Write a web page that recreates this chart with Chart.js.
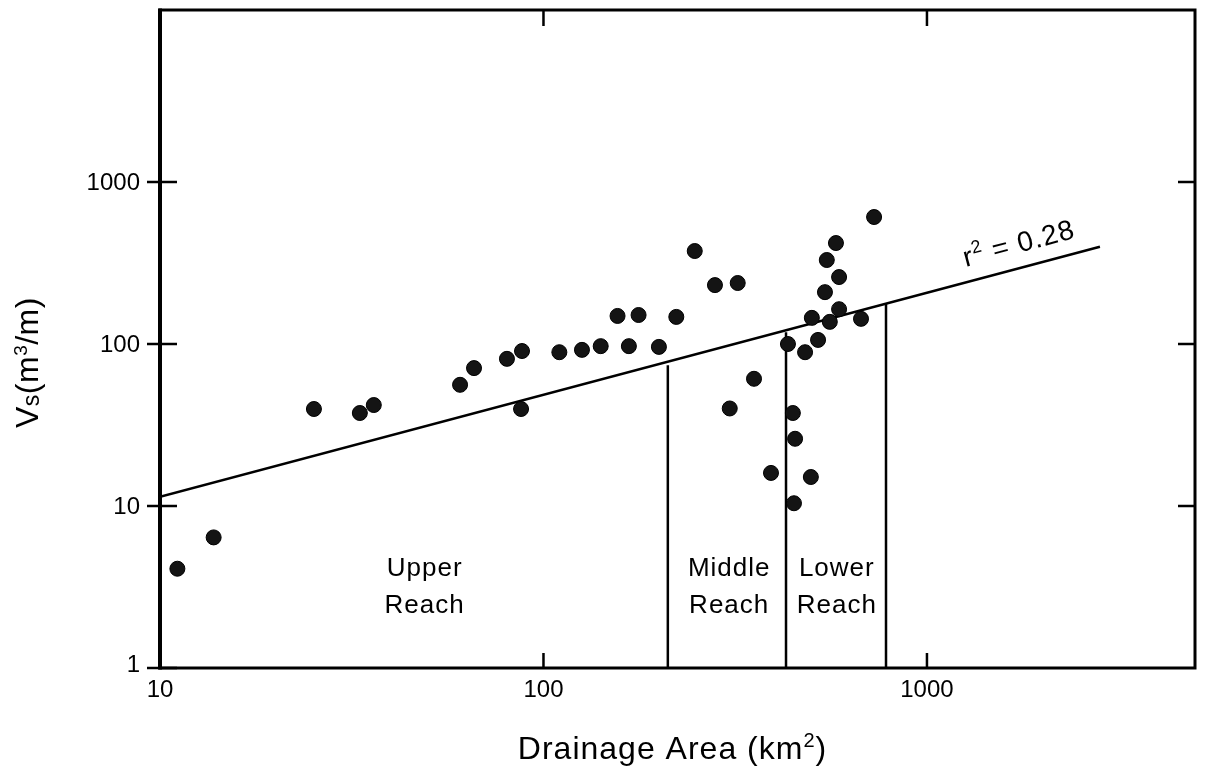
<!DOCTYPE html>
<html>
<head>
<meta charset="utf-8">
<script src="https://cdn.jsdelivr.net/npm/chart.js@4.4.1/dist/chart.umd.min.js"></script>
<style>
  html, body { margin: 0; padding: 0; background: #fff; }
  #wrap { width: 1205px; height: 775px; }
</style>
</head>
<body>
<div id="wrap"><canvas id="chart" width="1205" height="775"></canvas></div>
<script>
// drainage area (km2) and sediment volume per metre of channel, one entry per site
const areaKm2 = [11.1, 13.8, 25.2, 33.2, 36.1, 60.6, 65.9, 80.3, 87.9, 87.4,
  110, 126, 141, 156, 167, 177, 200, 222, 248, 280,
  306, 321, 354, 392, 434, 447, 453, 450, 481, 501,
  520, 498, 542, 548, 558, 579, 590, 590, 673, 728];
const volumeVs = [4.1, 6.4, 39.7, 37.5, 42, 56, 71, 81, 90.5, 39.7,
  89, 92, 97, 149, 97, 151, 96, 147, 375, 231,
  40, 238, 61, 16, 100, 37.5, 26, 10.4, 89, 145,
  106, 15.1, 209, 330, 137, 420, 259, 164, 143, 608];

// regression line end points
const fitArea = [10, 2825];
const fitVolume = [11.4, 398];

// reach boundaries: each runs from the x axis up to the regression line
const boundaryArea = [211, 429, 782];
const boundaryTop = [74, 118, 177];

const reachNames = [['Upper', 'Reach'], ['Middle', 'Reach'], ['Lower', 'Reach']];

const xTicks = [10, 100, 1000];
const yTicks = [1, 10, 100, 1000];

const FONT = '"Liberation Sans", Arial, Helvetica, sans-serif';

// draw a row of text pieces (normal, sub- and superscripts) starting at x
function drawRuns(ctx, runs, x, y, spacing) {
  if ('letterSpacing' in ctx) ctx.letterSpacing = spacing + 'px';
  ctx.textAlign = 'left';
  ctx.textBaseline = 'alphabetic';
  runs.forEach(r => {
    ctx.font = r.size + 'px ' + FONT;
    ctx.fillText(r.text, x, y + (r.dy || 0));
    x += ctx.measureText(r.text).width;
  });
  if ('letterSpacing' in ctx) ctx.letterSpacing = '0px';
}

function runsWidth(ctx, runs, spacing) {
  if ('letterSpacing' in ctx) ctx.letterSpacing = spacing + 'px';
  let w = 0;
  runs.forEach(r => {
    ctx.font = r.size + 'px ' + FONT;
    w += ctx.measureText(r.text).width;
  });
  if ('letterSpacing' in ctx) ctx.letterSpacing = '0px';
  return w;
}

const framePlugin = {
  id: 'frame',
  afterDraw(chart) {
    const { ctx, chartArea: a, scales: { x, y } } = chart;
    ctx.save();
    ctx.strokeStyle = '#000';
    ctx.fillStyle = '#000';

    // box round the plot, left side a bit heavier
    ctx.lineWidth = 3;
    ctx.strokeRect(a.left, a.top, a.right - a.left, a.bottom - a.top);
    ctx.lineWidth = 4;
    ctx.beginPath();
    ctx.moveTo(a.left, a.top - 1.5);
    ctx.lineTo(a.left, a.bottom + 1.5);
    ctx.stroke();

    // tick marks
    ctx.lineWidth = 2.5;
    ctx.beginPath();
    yTicks.forEach(v => {
      const py = y.getPixelForValue(v);
      ctx.moveTo(a.left - 13, py);
      ctx.lineTo(a.left + 17, py);
      if (v > 1) {
        ctx.moveTo(a.right, py);
        ctx.lineTo(a.right - 17, py);
      }
    });
    xTicks.forEach(v => {
      if (v === 10) return;
      const px = x.getPixelForValue(v);
      ctx.moveTo(px, a.bottom);
      ctx.lineTo(px, a.bottom - 15);
      ctx.moveTo(px, a.top);
      ctx.lineTo(px, a.top + 16);
    });
    ctx.stroke();

    // tick labels
    ctx.font = '24px ' + FONT;
    ctx.textBaseline = 'middle';
    ctx.textAlign = 'right';
    yTicks.forEach(v => {
      const py = y.getPixelForValue(v);
      ctx.fillText(String(v), a.left - 20, v === 1 ? py - 3 : py + 1);
    });
    ctx.textAlign = 'center';
    xTicks.forEach(v => {
      ctx.fillText(String(v), x.getPixelForValue(v), a.bottom + 22);
    });

    // reach names
    const labelX = [49, 305, 582];
    reachNames.forEach((lines, i) => {
      const px = x.getPixelForValue(labelX[i]);
      lines.forEach((t, j) => {
        const w = runsWidth(ctx, [{ text: t, size: 26 }], 1);
        drawRuns(ctx, [{ text: t, size: 26 }], px - w / 2, 576 + j * 37, 1);
      });
    });

    // x axis title
    const xt = [
      { text: 'Drainage Area (km', size: 32 },
      { text: '2', size: 20, dy: -12 },
      { text: ')', size: 32 }
    ];
    const xw = runsWidth(ctx, xt, 1);
    drawRuns(ctx, xt, (a.left + a.right) / 2 - 5 - xw / 2, 759, 1);

    // y axis title, read bottom to top
    ctx.save();
    ctx.translate(38, 428);
    ctx.rotate(-Math.PI / 2);
    drawRuns(ctx, [
      { text: 'V', size: 32 },
      { text: 's', size: 23, dy: 1 },
      { text: '(m', size: 32 },
      { text: '3', size: 19, dy: -11 },
      { text: '/m)', size: 32 }
    ], 0, 0, 0.5);
    ctx.restore();

    // r2 label laid along the regression line
    const x1 = x.getPixelForValue(fitArea[0]), y1 = y.getPixelForValue(fitVolume[0]);
    const x2 = x.getPixelForValue(fitArea[1]), y2 = y.getPixelForValue(fitVolume[1]);
    const ang = Math.atan2(y2 - y1, x2 - x1);
    const cx = 1025;
    const cy = y1 + (y2 - y1) * (cx - x1) / (x2 - x1);
    const rt = [
      { text: 'r', size: 28 },
      { text: '2', size: 18, dy: -11 },
      { text: ' = 0.28', size: 28 }
    ];
    const rw = runsWidth(ctx, rt, 1);
    ctx.save();
    ctx.translate(cx, cy);
    ctx.rotate(ang);
    drawRuns(ctx, rt, -rw / 2, -15, 1);
    ctx.restore();

    ctx.restore();
  }
};

const sitePoints = areaKm2.map((a, i) => ({ x: a, y: volumeVs[i] }));
const fitLine = fitArea.map((a, i) => ({ x: a, y: fitVolume[i] }));
const boundaries = boundaryArea.map((a, i) => ({
  type: 'line',
  data: [{ x: a, y: 1 }, { x: a, y: boundaryTop[i] }],
  borderColor: '#000',
  borderWidth: 2.5,
  pointRadius: 0,
  fill: false
}));

new Chart(document.getElementById('chart'), {
  type: 'scatter',
  data: {
    datasets: [
      {
        data: sitePoints,
        pointRadius: 7.5,
        pointHoverRadius: 7.5,
        backgroundColor: '#141414',
        borderColor: '#000',
        borderWidth: 1
      },
      {
        type: 'line',
        data: fitLine,
        borderColor: '#000',
        borderWidth: 2.5,
        pointRadius: 0,
        fill: false,
        tension: 0
      },
      ...boundaries
    ]
  },
  options: {
    responsive: false,
    animation: false,
    devicePixelRatio: 1,
    layout: { padding: { left: 160, right: 10, top: 10, bottom: 107 } },
    plugins: { legend: { display: false }, tooltip: { enabled: false } },
    scales: {
      x: { type: 'logarithmic', min: 10, max: 5000, bounds: 'data', display: false },
      y: { type: 'logarithmic', min: 1, max: 11530, bounds: 'data', display: false }
    }
  },
  plugins: [framePlugin]
});
</script>
</body>
</html>
